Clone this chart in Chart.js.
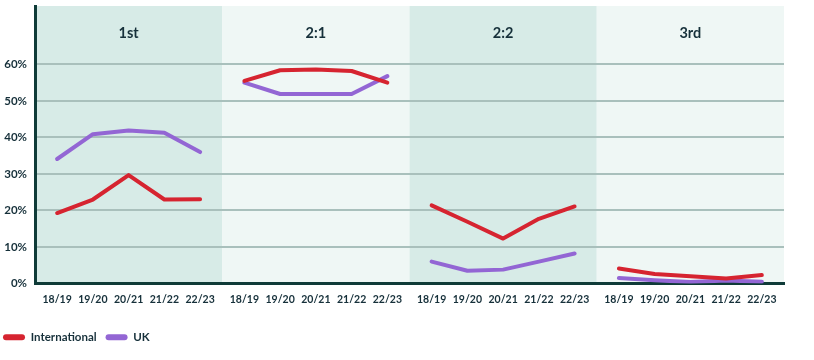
<!DOCTYPE html>
<html>
<head>
<meta charset="utf-8">
<script src="https://cdn.jsdelivr.net/npm/chart.js@4"></script>
<style>
  html, body { margin: 0; padding: 0; background: #ffffff; }
  #wrap { width: 814px; height: 360px; position: relative; }
</style>
</head>
<body>
<div id="wrap"><canvas id="c" width="814" height="360"></canvas></div>
<script>
// ---- data ----
const panels = ["1st", "2:1", "2:2", "3rd"];
const years = ["18/19", "19/20", "20/21", "21/22", "22/23"];
const international = [
  [19.3, 23.0, 29.7, 23.0, 23.1],
  [55.5, 58.4, 58.6, 58.2, 55.0],
  [21.4, 16.9, 12.3, 17.7, 21.1],
  [4.1, 2.6, 2.0, 1.4, 2.3]
];
const uk = [
  [34.1, 40.9, 41.9, 41.3, 36.0],
  [55.0, 51.9, 51.9, 51.9, 56.8],
  [6.0, 3.5, 3.8, 6.0, 8.2],
  [1.5, 0.9, 0.4, 0.8, 0.5]
];
const yTicks = [0, 10, 20, 30, 40, 50, 60];

// ---- layout helpers ----
const W = 5.24; // panel width in x units (1 unit = spacing between years)
const xPos = (p, i) => p * W + W / 2 + (i - 2);
function buildSeries(arr) {
  const out = [];
  arr.forEach((vals, p) => {
    vals.forEach((v, i) => out.push({ x: xPos(p, i), y: v }));
    if (p < arr.length - 1) out.push({ x: (p + 1) * W, y: null });
  });
  return out;
}
const xTickValues = [];
panels.forEach((_, p) => years.forEach((_, i) => xTickValues.push(xPos(p, i))));

const DARK = "#0f3b38";
const TEXT = "#16303a";
const FONT = "Lato, 'Open Sans', sans-serif";

const panelPlugin = {
  id: "panels",
  beforeDraw(chart) {
    const { ctx, chartArea } = chart;
    const xs = chart.scales.x;
    ctx.save();
    panels.forEach((_, p) => {
      const x0 = xs.getPixelForValue(p * W);
      const x1 = xs.getPixelForValue((p + 1) * W);
      ctx.fillStyle = p % 2 === 0 ? "#d7ebe7" : "#eff7f5";
      ctx.fillRect(x0, chartArea.top, x1 - x0, chartArea.bottom - chartArea.top);
    });
    ctx.restore();
  },
  afterDraw(chart) {
    const { ctx, chartArea } = chart;
    const xs = chart.scales.x;
    ctx.save();
    ctx.fillStyle = TEXT;
    ctx.font = "700 14.5px " + FONT;
    ctx.textAlign = "center";
    ctx.textBaseline = "middle";
    panels.forEach((name, p) => {
      const xc = xs.getPixelForValue(p * W + W / 2);
      ctx.fillText(name, xc, chartArea.top + 27);
    });
    ctx.restore();
  },
  afterLayout(chart) {
    if (chart.legend) { chart.legend.left -= 6; chart.legend.right -= 6; }
  }
};

new Chart(document.getElementById("c"), {
  type: "line",
  data: {
    datasets: [
      { label: "International", data: buildSeries(international), borderColor: "#d62430", backgroundColor: "#d62430",
        borderWidth: 4, pointRadius: 0, tension: 0, spanGaps: false, borderCapStyle: "round", borderJoinStyle: "round" },
      { label: "UK", data: buildSeries(uk), borderColor: "#9366d4", backgroundColor: "#9366d4",
        borderWidth: 4, pointRadius: 0, tension: 0, spanGaps: false, borderCapStyle: "round", borderJoinStyle: "round" }
    ]
  },
  options: {
    responsive: false,
    animation: false,
    events: [],
    layout: { padding: { left: 0, right: 30, top: 6, bottom: 7 } },
    scales: {
      x: {
        type: "linear",
        min: 0,
        max: 4 * W,
        afterBuildTicks(axis) { axis.ticks = xTickValues.map(v => ({ value: v })); },
        afterFit(axis) { axis.height = 39; },
        grid: { display: false, drawTicks: false },
        border: { display: true, color: DARK, width: 3 },
        ticks: {
          autoSkip: false,
          maxRotation: 0,
          padding: 10,
          color: TEXT,
          font: { family: FONT, size: 10.5, weight: "700" },
          callback: (v, i) => years[i % years.length]
        }
      },
      y: {
        min: 0,
        max: 76,
        afterBuildTicks(axis) { axis.ticks = yTicks.map(v => ({ value: v })); },
        afterFit(axis) { axis.width = 35; axis.paddingTop = 0; axis.paddingBottom = 0; },
        grid: { color: "#a9c0bc", lineWidth: 2, drawTicks: false },
        border: { display: true, color: DARK, width: 3 },
        ticks: {
          padding: 8,
          color: TEXT,
          font: { family: FONT, size: 11.5, weight: "700" },
          callback: v => v + "%"
        }
      }
    },
    plugins: {
      tooltip: { enabled: false },
      legend: {
        position: "bottom",
        align: "start",
        labels: {
          boxWidth: 22,
          boxHeight: 6,
          padding: 9,
          color: TEXT,
          font: { family: FONT, size: 11.5, weight: "700" },
          useBorderRadius: true,
          borderRadius: 3,
          generateLabels(chart) {
            return chart.data.datasets.map((ds, i) => ({
              text: ds.label, fillStyle: ds.borderColor, strokeStyle: ds.borderColor,
              lineWidth: 0, hidden: false, datasetIndex: i, fontColor: TEXT,
              borderRadius: 3
            }));
          }
        }
      }
    }
  },
  plugins: [panelPlugin]
});
</script>
</body>
</html>
